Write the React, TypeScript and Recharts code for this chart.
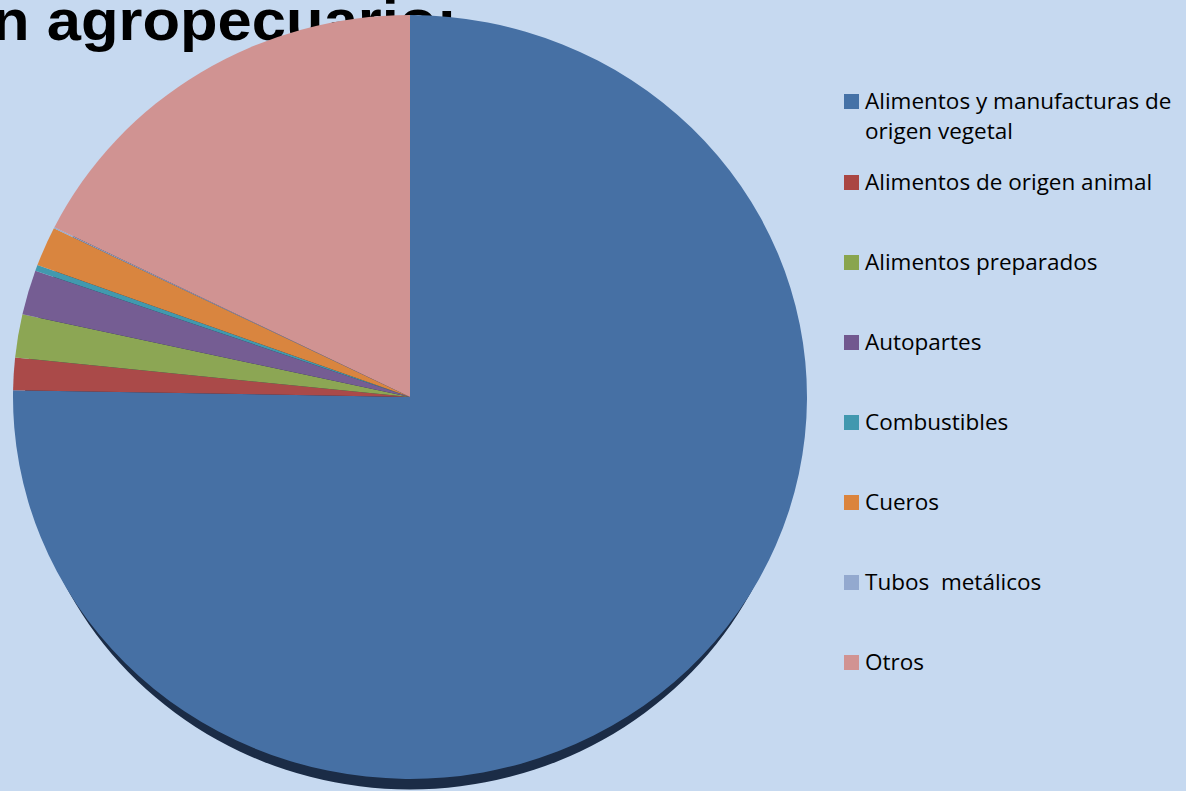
import { Cell, Legend, Pie, PieChart } from "recharts";

// sectores de exportación (orden de la leyenda y de las porciones)
const categories = [
  "Alimentos y manufacturas de origen vegetal",
  "Alimentos de origen animal",
  "Alimentos preparados",
  "Autopartes",
  "Combustibles",
  "Cueros",
  "Tubos  metálicos",
  "Otros",
];
// participación en %
const shares = [75.3, 1.36, 1.83, 1.89, 0.25, 1.67, 0.05, 17.67];
const sliceColors = ["#4670a4", "#aa4a49", "#8ca654", "#755d93", "#4299ae", "#d9853f", "#94a9cf", "#d09392"];
const legendColors = ["#4572A7", "#AA4643", "#89A54E", "#71588F", "#4198AF", "#DB843D", "#93A9CF", "#D19392"];

const title = "n agropecuario:";

const data = categories.map((name, i) => ({ name, value: shares[i] }));
const shadowData = [{ name: "sombra", value: 1 }];

const W = 1186;
const H = 791;
const CX = 410;
const CY = 397;
const R = 397;

function SideLegend() {
  return (
    <div style={{ fontFamily: "'Open Sans', sans-serif", fontSize: 22.5, lineHeight: "30px", color: "#000" }}>
      {categories.map((name, i) => (
        <div
          key={name}
          style={{ display: "flex", alignItems: "flex-start", marginBottom: i === 0 ? 21 : 50 }}
        >
          <span
            style={{
              width: 15,
              height: 15,
              marginTop: 7.5,
              marginRight: 6,
              flex: "0 0 15px",
              background: legendColors[i],
            }}
          />
          <span style={{ width: 321, whiteSpace: "pre-wrap" }}>{name}</span>
        </div>
      ))}
    </div>
  );
}

export default function App() {
  return (
    <div style={{ position: "absolute", left: 0, top: 0, width: W, height: H, background: "#c6d9f0", overflow: "hidden" }}>
      {/* la torta es algo achatada: se escala en vertical */}
      <style>{`.recharts-pie { transform: scaleY(0.962); transform-origin: ${CX}px ${CY}px; }`}</style>
      {/* título cortado, queda detrás de la torta */}
      <svg width={W} height={H} style={{ position: "absolute", left: 0, top: 0 }}>
        <text
          x={-8}
          y={40}
          fontFamily="'Liberation Sans', Arial, sans-serif"
          fontWeight="bold"
          fontSize={57}
          textLength={465}
          lengthAdjust="spacingAndGlyphs"
          fill="#000"
        >
          {title}
        </text>
      </svg>
      <div style={{ position: "absolute", left: 0, top: 0 }}>
        <PieChart width={W} height={H} margin={{ top: 0, right: 0, bottom: 0, left: 0 }}>
          {/* sombra */}
          <Pie
            data={shadowData}
            dataKey="value"
            cx={CX}
            cy={CY + 22}
            outerRadius={R - 11}
            startAngle={90}
            endAngle={-270}
            fill="#1b2c46"
            stroke="none"
            legendType="none"
            isAnimationActive={false}
          />
          <Pie
            data={data}
            dataKey="value"
            nameKey="name"
            cx={CX}
            cy={CY}
            outerRadius={R}
            startAngle={90}
            endAngle={-270}
            stroke="none"
            isAnimationActive={false}
          >
            {data.map((d, i) => (
              <Cell key={d.name} fill={sliceColors[i]} />
            ))}
          </Pie>
          <Legend
            layout="vertical"
            align="right"
            verticalAlign="top"
            content={<SideLegend />}
            wrapperStyle={{ position: "absolute", left: 844, top: 86, width: 342, right: "auto" }}
          />
        </PieChart>
      </div>
    </div>
  );
}
